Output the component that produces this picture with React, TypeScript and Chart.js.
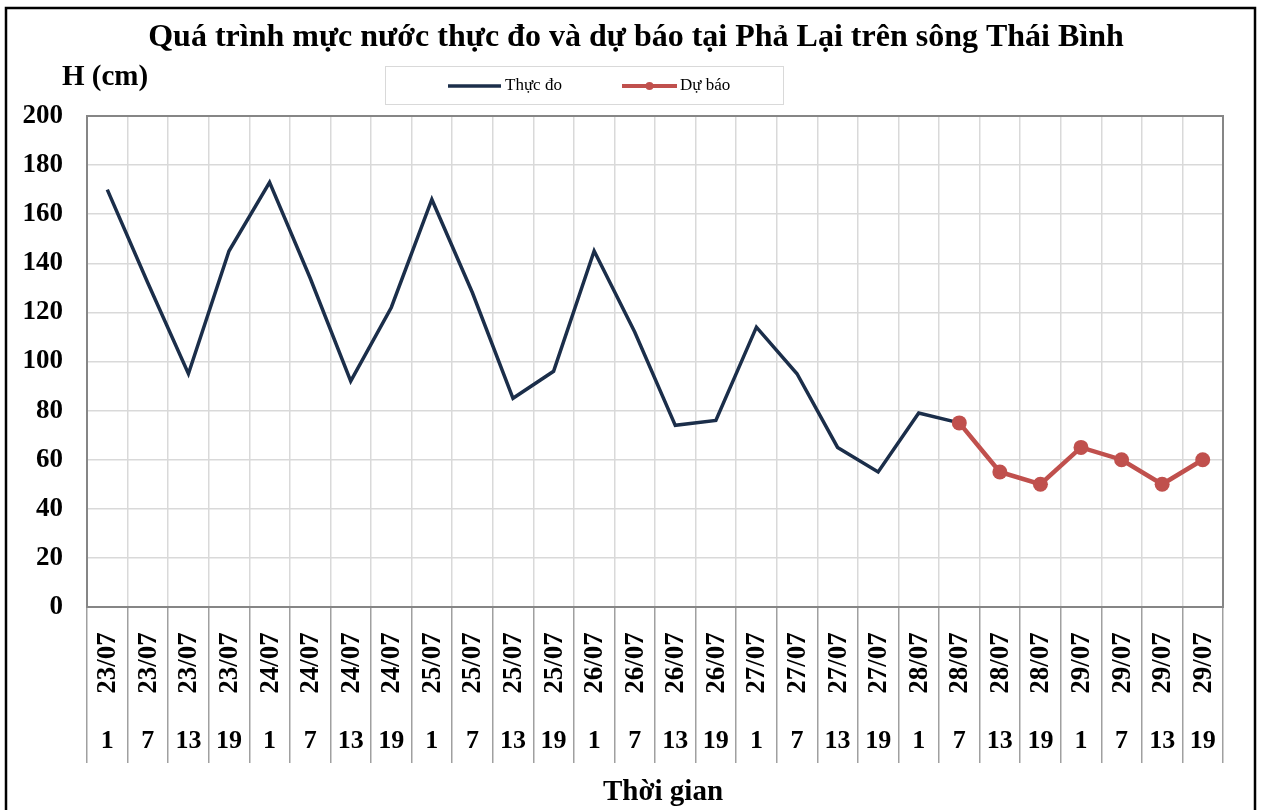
import React, { useEffect, useRef } from "react";
import { Chart, registerables } from "chart.js";

Chart.register(...registerables);

const dates = [
  "23/07", "23/07", "23/07", "23/07",
  "24/07", "24/07", "24/07", "24/07",
  "25/07", "25/07", "25/07", "25/07",
  "26/07", "26/07", "26/07", "26/07",
  "27/07", "27/07", "27/07", "27/07",
  "28/07", "28/07", "28/07", "28/07",
  "29/07", "29/07", "29/07", "29/07",
];
const hours = [
  "1", "7", "13", "19", "1", "7", "13", "19", "1", "7", "13", "19", "1", "7",
  "13", "19", "1", "7", "13", "19", "1", "7", "13", "19", "1", "7", "13", "19",
];
const measured: (number | null)[] = [
  170, 132, 95, 145, 173, 134, 92, 122, 166, 128, 85, 96, 145, 112, 74, 76,
  114, 95, 65, 55, 79, 75, null, null, null, null, null, null,
];
const forecast: (number | null)[] = [
  null, null, null, null, null, null, null, null, null, null, null, null, null,
  null, null, null, null, null, null, null, null, 75, 55, 50, 65, 60, 50, 60,
];
const yTicks = { min: 0, max: 200, step: 20 };

const TITLE = "Quá trình mực nước thực đo và dự báo tại Phả Lại trên sông Thái Bình";
const Y_LABEL = "H (cm)";
const X_LABEL = "Thời gian";
const SERIES_NAMES = ["Thực đo", "Dự báo"];
const COLORS = ["#1b2e4a", "#c0504d"];
const SERIF = "'Liberation Serif', 'Times New Roman', serif";

const overlay = {
  id: "overlay",
  afterDraw(chart: any) {
    const ctx = chart.ctx as CanvasRenderingContext2D;
    const area = chart.chartArea;
    const xs = chart.scales.x;
    ctx.save();
    // outer border
    ctx.strokeStyle = "#000";
    ctx.lineWidth = 2.5;
    ctx.strokeRect(6, 8, 1249, 820);
    // plot border
    ctx.strokeStyle = "#868686";
    ctx.lineWidth = 2;
    ctx.strokeRect(area.left, area.top, area.right - area.left, area.bottom - area.top);
    // title
    ctx.fillStyle = "#000";
    ctx.font = `bold 32px ${SERIF}`;
    ctx.textAlign = "center";
    ctx.textBaseline = "middle";
    ctx.fillText(TITLE, 636, 38);
    // y label
    ctx.font = `bold 29px ${SERIF}`;
    ctx.textAlign = "left";
    ctx.fillText(Y_LABEL, 62, 78);
    // legend
    ctx.strokeStyle = "#d9d9d9";
    ctx.lineWidth = 1;
    ctx.strokeRect(385.5, 66.5, 398, 38);
    ctx.font = `17px ${SERIF}`;
    ctx.textBaseline = "middle";
    const ly = 86;
    ctx.lineWidth = 3.5;
    ctx.strokeStyle = COLORS[0];
    ctx.beginPath();
    ctx.moveTo(448, ly);
    ctx.lineTo(501, ly);
    ctx.stroke();
    ctx.fillStyle = "#000";
    ctx.fillText(SERIES_NAMES[0], 505, ly);
    ctx.strokeStyle = COLORS[1];
    ctx.lineWidth = 4;
    ctx.beginPath();
    ctx.moveTo(622, ly);
    ctx.lineTo(677, ly);
    ctx.stroke();
    ctx.fillStyle = COLORS[1];
    ctx.beginPath();
    ctx.arc(649.5, ly, 4, 0, Math.PI * 2);
    ctx.fill();
    ctx.fillStyle = "#000";
    ctx.fillText(SERIES_NAMES[1], 680, ly);
    // x labels
    for (let i = 0; i < dates.length; i++) {
      const x = xs.getPixelForValue(i);
      ctx.save();
      ctx.translate(x, 663);
      ctx.rotate(-Math.PI / 2);
      ctx.font = `bold 27px ${SERIF}`;
      ctx.textAlign = "center";
      ctx.textBaseline = "middle";
      ctx.fillText(dates[i], 0, 1);
      ctx.restore();
      ctx.font = `bold 26px ${SERIF}`;
      ctx.textAlign = "center";
      ctx.textBaseline = "middle";
      ctx.fillText(hours[i], x, 741);
    }
    // x title
    ctx.font = `bold 29px ${SERIF}`;
    ctx.textAlign = "center";
    ctx.fillText(X_LABEL, 663, 793);
    ctx.restore();
  },
};

export default function App() {
  const ref = useRef<HTMLCanvasElement>(null);
  useEffect(() => {
    if (!ref.current) return;
    const chart = new Chart(ref.current, {
      type: "line",
      data: {
        labels: dates.map((d, i) => `${d} ${hours[i]}`),
        datasets: [
          {
            label: SERIES_NAMES[1],
            data: forecast,
            borderColor: COLORS[1],
            backgroundColor: COLORS[1],
            borderWidth: 4.5,
            pointRadius: 7.5,
            pointBorderWidth: 0,
            pointBackgroundColor: COLORS[1],
            tension: 0,
            spanGaps: false,
            order: 0,
          },
          {
            label: SERIES_NAMES[0],
            data: measured,
            borderColor: COLORS[0],
            backgroundColor: COLORS[0],
            borderWidth: 3.5,
            pointRadius: 0,
            tension: 0,
            spanGaps: false,
            order: 1,
          },
        ],
      },
      options: {
        responsive: false,
        animation: false,
        layout: { padding: { left: 0, top: 116, right: 41, bottom: 0 } },
        plugins: {
          legend: { display: false },
          title: { display: false },
          tooltip: { enabled: false },
        },
        scales: {
          x: {
            type: "category",
            offset: true,
            grid: {
              offset: true,
              color: "#d9d9d9",
              lineWidth: 1.5,
              drawTicks: true,
              tickLength: 156,
              tickColor: "#a0a0a0",
              tickWidth: 1.5,
            },
            border: { display: true, color: "#868686", width: 2 },
            ticks: { display: false },
            afterFit: (s: any) => {
              s.height = 203;
            },
          },
          y: {
            min: yTicks.min,
            max: yTicks.max,
            grid: { color: "#d9d9d9", lineWidth: 1.5, drawTicks: false },
            border: { display: true, color: "#868686", width: 2 },
            ticks: {
              stepSize: yTicks.step,
              padding: 24,
              color: "#000",
              font: { family: SERIF, size: 27, weight: "bold" },
            },
            afterFit: (s: any) => {
              s.width = 87;
            },
          },
        },
      },
      plugins: [overlay],
    });
    return () => chart.destroy();
  }, []);
  return (
    <div style={{ position: "absolute", left: 0, top: 0, width: 1264, height: 810, background: "#fff" }}>
      <canvas ref={ref} width={1264} height={810} />
    </div>
  );
}
